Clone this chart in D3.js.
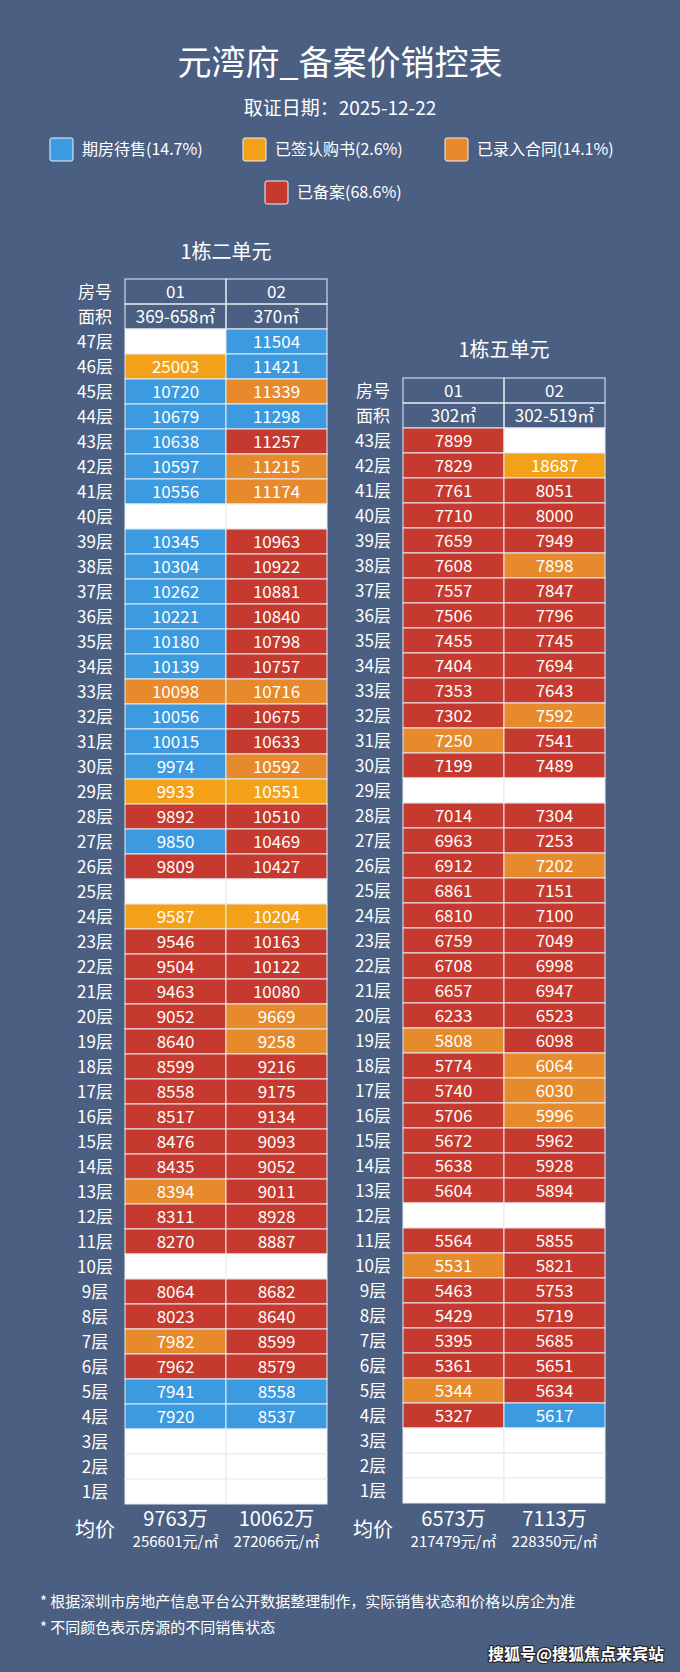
<!DOCTYPE html>
<html><head><meta charset="utf-8">
<script src="https://cdn.jsdelivr.net/npm/d3@7"></script>
<style>
body{margin:0;background:#4b5f82;}
svg text{font-family:"Noto Sans CJK SC","Noto Sans",sans-serif;fill:#fff;}
</style></head>
<body><div id="chart"></div>
<script>
// Legend categories.
const statusKeys = ['B', 'Y', 'O', 'R'];
const statusLabels = ['期房待售(14.7%)', '已签认购书(2.6%)', '已录入合同(14.1%)', '已备案(68.6%)'];
const statusColors = ['#3b9ae0', '#f4a11a', '#e78a2c', '#c5392e'];

// 1栋二单元, floors 47 -> 1.
const b2Floors = d3.range(47, 0, -1);
const b2Rooms = ['01', '02'];
const b2Areas = ['369-658㎡', '370㎡'];
const b2Price01 = [null,25003,10720,10679,10638,10597,10556,null,10345,10304,10262,10221,10180,10139,10098,10056,10015,9974,9933,9892,9850,9809,null,9587,9546,9504,9463,9052,8640,8599,8558,8517,8476,8435,8394,8311,8270,null,8064,8023,7982,7962,7941,7920,null,null,null];
const b2Price02 = [11504,11421,11339,11298,11257,11215,11174,null,10963,10922,10881,10840,10798,10757,10716,10675,10633,10592,10551,10510,10469,10427,null,10204,10163,10122,10080,9669,9258,9216,9175,9134,9093,9052,9011,8928,8887,null,8682,8640,8599,8579,8558,8537,null,null,null];
const b2St01 = ['W','Y','B','B','B','B','B','W','B','B','B','B','B','B','O','B','B','B','Y','R','B','R','W','Y','R','R','R','R','R','R','R','R','R','R','O','R','R','W','R','R','O','R','B','B','W','W','W'];
const b2St02 = ['B','B','O','B','R','O','O','W','R','R','R','R','R','R','O','R','R','O','Y','R','R','R','W','Y','R','R','R','O','O','R','R','R','R','R','R','R','R','W','R','R','R','R','B','B','W','W','W'];
const b2Avg = ['9763万', '10062万'];
const b2AvgUnit = ['256601元/㎡', '272066元/㎡'];

// 1栋五单元, floors 43 -> 1.
const b5Floors = d3.range(43, 0, -1);
const b5Rooms = ['01', '02'];
const b5Areas = ['302㎡', '302-519㎡'];
const b5Price01 = [7899,7829,7761,7710,7659,7608,7557,7506,7455,7404,7353,7302,7250,7199,null,7014,6963,6912,6861,6810,6759,6708,6657,6233,5808,5774,5740,5706,5672,5638,5604,null,5564,5531,5463,5429,5395,5361,5344,5327,null,null,null];
const b5Price02 = [null,18687,8051,8000,7949,7898,7847,7796,7745,7694,7643,7592,7541,7489,null,7304,7253,7202,7151,7100,7049,6998,6947,6523,6098,6064,6030,5996,5962,5928,5894,null,5855,5821,5753,5719,5685,5651,5634,5617,null,null,null];
const b5St01 = ['R','R','R','R','R','R','R','R','R','R','R','R','O','R','W','R','R','R','R','R','R','R','R','R','O','R','R','R','R','R','R','W','R','O','R','R','R','R','O','R','W','W','W'];
const b5St02 = ['W','Y','R','R','R','O','R','R','R','R','R','O','R','R','W','R','R','O','R','R','R','R','R','R','R','O','O','O','R','R','R','W','R','R','R','R','R','R','R','B','W','W','W'];
const b5Avg = ['6573万', '7113万'];
const b5AvgUnit = ['217479元/㎡', '228350元/㎡'];

const footnotes = ['* 根据深圳市房地产信息平台公开数据整理制作，实际销售状态和价格以房企为准', '* 不同颜色表示房源的不同销售状态'];

const W = 680, H = 1672;
const svg = d3.select('#chart').append('svg').attr('width', W).attr('height', H);
svg.append('rect').attr('width', W).attr('height', H).attr('fill', '#4b5f82');

const color = d3.scaleOrdinal(statusKeys, statusColors).unknown('#ffffff');

// Title.
svg.append('text').attr('x', 340).attr('y', 75).attr('text-anchor', 'middle')
    .attr('font-size', 34).text('元湾府_备案价销控表');
svg.append('text').attr('x', 340).attr('y', 115).attr('text-anchor', 'middle')
    .attr('font-size', 19).text('取证日期：2025-12-22');

// Legend.
const legendPos = [[50, 149], [243, 149], [445, 149], [265, 192]];
const legend = svg.append('g').selectAll('g').data(statusKeys).enter().append('g')
    .attr('transform', (d, i) => `translate(${legendPos[i][0]},${legendPos[i][1]})`);
legend.append('rect').attr('x', 0).attr('y', -11).attr('width', 23).attr('height', 23).attr('rx', 2)
    .attr('fill', d => color(d)).attr('stroke', '#f0f0f0').attr('stroke-width', 1);
legend.append('text').attr('x', 32).attr('dy', '0.35em').attr('font-size', 16)
    .text((d, i) => statusLabels[i]);

function drawBlock(opt) {
    const g = svg.append('g');
    const x = d3.scaleBand().domain(opt.rooms).range([opt.x0, opt.x0 + 202]);
    const rowH = 25;
    const y = d3.scaleBand().domain(opt.floors).range([opt.top, opt.top + rowH * opt.floors.length]);
    const labelX = opt.x0 - 30;

    g.append('text').attr('x', opt.x0 + 101).attr('y', opt.titleY).attr('text-anchor', 'middle')
        .attr('font-size', 20).text(opt.title);

    // Header rows.
    const headTop = opt.top - 2 * rowH;
    [['房号', opt.rooms], ['面积', opt.areas]].forEach((row, r) => {
        const yy = headTop + r * rowH;
        g.append('text').attr('x', labelX).attr('y', yy + rowH / 2).attr('dy', '0.36em')
            .attr('text-anchor', 'middle').attr('font-size', 17).text(row[0]);
        opt.rooms.forEach((rm, i) => {
            g.append('rect').attr('x', x(rm)).attr('y', yy).attr('width', x.bandwidth()).attr('height', rowH)
                .attr('fill', 'none').attr('stroke', '#e8eef6').attr('stroke-width', 1);
            g.append('text').attr('x', x(rm) + x.bandwidth() / 2).attr('y', yy + rowH / 2).attr('dy', '0.36em')
                .attr('text-anchor', 'middle').attr('font-size', 17).text(row[1][i]);
        });
    });

    // Floor labels.
    g.selectAll('.fl').data(opt.floors).enter().append('text')
        .attr('x', labelX).attr('y', d => y(d) + rowH / 2).attr('dy', '0.36em')
        .attr('text-anchor', 'middle').attr('font-size', 17).text(d => d + '层');

    // Cells.
    opt.rooms.forEach((rm, i) => {
        const cells = opt.floors.map((f, k) => ({ f, price: opt.prices[i][k], st: opt.status[i][k] }));
        const cg = g.append('g');
        cg.selectAll('rect').data(cells).enter().append('rect')
            .attr('x', x(rm)).attr('y', d => y(d.f)).attr('width', x.bandwidth()).attr('height', y.bandwidth())
            .attr('fill', d => color(d.st)).attr('stroke', '#e6ebf2').attr('stroke-width', 1);
        cg.selectAll('text').data(cells.filter(d => d.price != null)).enter().append('text')
            .attr('x', x(rm) + x.bandwidth() / 2).attr('y', d => y(d.f) + rowH / 2).attr('dy', '0.36em')
            .attr('text-anchor', 'middle').attr('font-size', 17).text(d => d.price);
        g.append('text').attr('x', x(rm) + x.bandwidth() / 2).attr('y', opt.avgY)
            .attr('text-anchor', 'middle').attr('font-size', 20).text(opt.avg[i]);
        g.append('text').attr('x', x(rm) + x.bandwidth() / 2).attr('y', opt.avgY + 21)
            .attr('text-anchor', 'middle').attr('font-size', 15).text(opt.avgUnit[i]);
    });
    g.append('text').attr('x', labelX).attr('y', opt.avgY + 11).attr('text-anchor', 'middle')
        .attr('font-size', 20).text('均价');
}

drawBlock({ title: '1栋二单元', titleY: 259, x0: 125, top: 329, floors: b2Floors, rooms: b2Rooms, areas: b2Areas,
    prices: [b2Price01, b2Price02], status: [b2St01, b2St02], avg: b2Avg, avgUnit: b2AvgUnit, avgY: 1526 });
drawBlock({ title: '1栋五单元', titleY: 357, x0: 403, top: 428, floors: b5Floors, rooms: b5Rooms, areas: b5Areas,
    prices: [b5Price01, b5Price02], status: [b5St01, b5St02], avg: b5Avg, avgUnit: b5AvgUnit, avgY: 1526 });

// Footnotes.
svg.selectAll('.fn').data(footnotes).enter().append('text')
    .attr('x', 40).attr('y', (d, i) => 1607 + i * 26).attr('font-size', 15).text(d => d);

// Watermark.
svg.append('text').attr('x', 664).attr('y', 1660).attr('text-anchor', 'end')
    .attr('font-size', 16).attr('font-weight', 'bold')
    .style('paint-order', 'stroke').attr('stroke', '#222').attr('stroke-width', 2)
    .text('搜狐号@搜狐焦点来宾站');
</script></body></html>
